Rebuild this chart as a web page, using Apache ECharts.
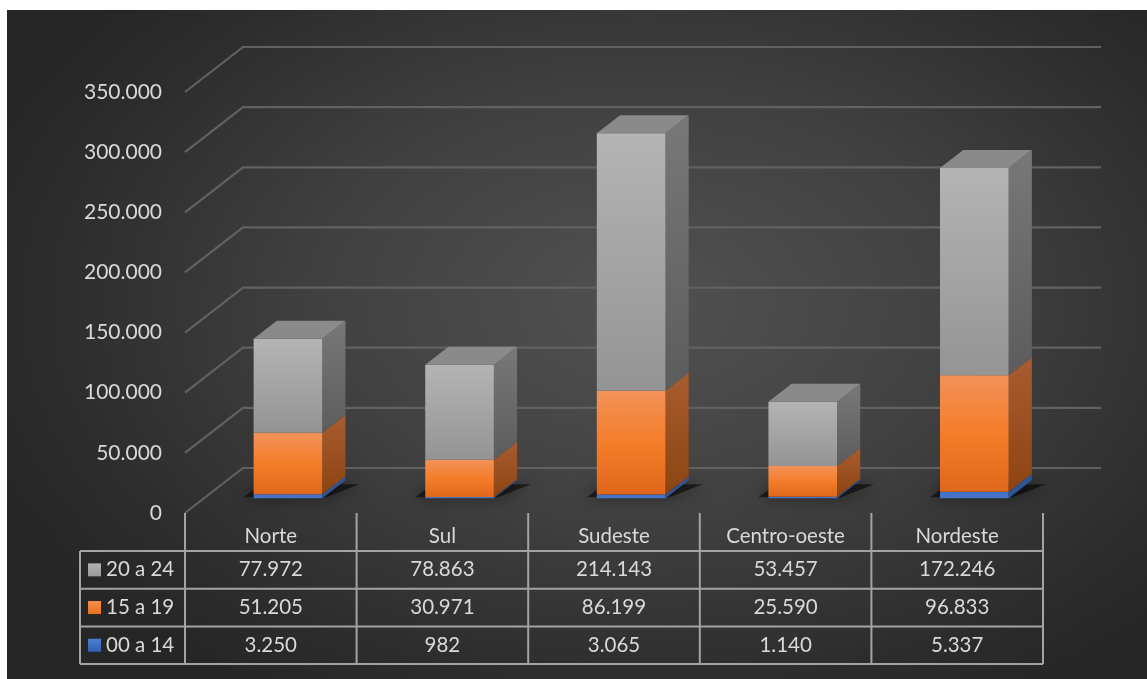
<!DOCTYPE html>
<html>
<head>
<meta charset="utf-8">
<script src="https://cdn.jsdelivr.net/npm/echarts@6/dist/echarts.min.js"></script>
<style>
  html, body { margin: 0; padding: 0; background: #ffffff; }
  #panel {
    position: absolute; left: 7px; top: 10px; width: 1140px; height: 669px;
    background: radial-gradient(ellipse 62% 68% at 56% 44%, #515151 0%, #414141 45%, #2c2c2c 85%, #262626 100%);
  }
  #chart { position: absolute; left: 0; top: 0; width: 1147px; height: 679px; }
</style>
</head>
<body>
<div id="panel"></div>
<div id="chart"></div>
<script>
// Regions and age groups
const categories = ['Norte', 'Sul', 'Sudeste', 'Centro-oeste', 'Nordeste'];
const seriesNames = ['00 a 14', '15 a 19', '20 a 24'];
const age00a14 = [3250, 982, 3065, 1140, 5337];
const age15a19 = [51205, 30971, 86199, 25590, 96833];
const age20a24 = [77972, 78863, 214143, 53457, 172246];
const yTicks = [0, 50000, 100000, 150000, 200000, 250000, 300000, 350000];

// 3D look: depth of the back wall and position of the columns inside it
const DX = 58, DY = -45;
const F0 = 0.33, F1 = 0.73;
const BAR_RATIO = 0.4;
const BAR_SHIFT = -2;
const TEXT = '#d9d9d9';
const FONT = 'Lato';
const GRID_LINE = '#616161';
const TABLE_LINE = '#a3a3a3';

const stacks = [age00a14, age15a19, age20a24];

const faces = [
  { // 00 a 14
    front: '#4472c4', side: '#2f5597', top: '#5b85cf', swatch: ['#4f7fd0', '#2f5fb3']
  },
  { // 15 a 19
    front: ['#f29259', '#f47d2a', '#e0671b'], side: ['#a85c30', '#8c4512'], top: '#f59d68', swatch: ['#f7904a', '#e8701e']
  },
  { // 20 a 24
    front: ['#b4b4b4', '#949494'], side: ['#787878', '#5c5c5c'], top: '#8a8a8a', swatch: ['#b0b0b0', '#9a9a9a']
  }
];

function vgrad(stops) {
  if (typeof stops === 'string') return stops;
  return {
    type: 'linear', x: 0, y: 0, x2: 0, y2: 1,
    colorStops: stops.map((c, i) => ({ offset: i / (stops.length - 1), color: c }))
  };
}

function fmt(v) {
  return String(v).replace(/\B(?=(\d{3})+(?!\d))/g, '.');
}

const barData = categories.map((c, i) => [i, age00a14[i], age15a19[i], age20a24[i]]);

function renderWall(params, api) {
  const cs = params.coordSys;
  const v = api.value(0);
  const y = api.coord([0, v])[1];
  const x0 = cs.x;
  const x1 = cs.x + cs.width;
  return {
    type: 'polyline',
    shape: { points: [[x0, y], [x0 + DX, y + DY], [x1 + DX, y + DY]] },
    style: { stroke: GRID_LINE, lineWidth: 2.2, fill: null },
    silent: true
  };
}

function renderBar(params, api) {
  const i = api.value(0);
  const base = api.coord([i, 0]);
  const band = api.size([1, 0])[0];
  const w = band * BAR_RATIO;
  const ox = DX * F0 + BAR_SHIFT, oy = DY * F0;
  const dx = DX * (F1 - F0), dy = DY * (F1 - F0);
  const xl = base[0] - w / 2 + ox;
  const xr = xl + w;
  const yb0 = base[1] + oy;
  const children = [];

  // soft shadow under the column
  children.push({
    type: 'polygon',
    shape: { points: [[xl - 10, yb0 - 1], [xr + 4, yb0 - 1], [xr + dx + 14, yb0 + dy + 4], [xl + dx - 16, yb0 + dy + 4]] },
    style: { fill: 'rgba(0,0,0,0.55)', shadowBlur: 16, shadowColor: 'rgba(0,0,0,0.85)' },
    silent: true
  });

  let acc = 0;
  for (let s = 0; s < 3; s++) {
    const v = api.value(s + 1);
    const yb = api.coord([i, acc])[1] + oy;
    acc += v;
    const yt = api.coord([i, acc])[1] + oy;
    const f = faces[s];
    children.push({
      type: 'polygon',
      shape: { points: [[xr, yb], [xr + dx, yb + dy], [xr + dx, yt + dy], [xr, yt]] },
      style: { fill: vgrad(f.side) },
      silent: true
    });
    children.push({
      type: 'rect',
      shape: { x: xl, y: yt, width: w, height: yb - yt },
      style: { fill: vgrad(f.front) },
      silent: true
    });
    if (s === 2) {
      children.push({
        type: 'polygon',
        shape: { points: [[xl, yt], [xr, yt], [xr + dx, yt + dy], [xl + dx, yt + dy]] },
        style: { fill: f.top },
        silent: true
      });
    }
  }
  return { type: 'group', children: children };
}

// data table under the plot: one column per region plus the legend column
const HEAD_H = 38, ROW_H = 37.7, LEGEND_W = 105;
const rowOrder = [2, 1, 0]; // 20 a 24, 15 a 19, 00 a 14

function renderTable(params, api) {
  const cs = params.coordSys;
  const i = api.value(0);
  const c = api.coord([i, 0]);
  const band = api.size([1, 0])[0];
  const yTop = c[1];
  const yHead = yTop + HEAD_H;
  const yEnd = yHead + ROW_H * 3;
  const children = [];
  const line = (x1, y1, x2, y2) => ({
    type: 'line', shape: { x1, y1, x2, y2 },
    style: { stroke: TABLE_LINE, lineWidth: 2 }, silent: true
  });

  rowOrder.forEach((s, r) => {
    children.push({
      type: 'text',
      style: {
        x: c[0], y: yHead + ROW_H * (r + 0.5),
        text: fmt(stacks[s][i]), fill: TEXT, font: '20.5px ' + FONT,
        align: 'center', verticalAlign: 'middle'
      },
      silent: true
    });
  });
  children.push(line(c[0] + band / 2, yTop, c[0] + band / 2, yEnd));

  if (i === 0) {
    const xL = cs.x - LEGEND_W;
    children.push(line(cs.x, yTop, cs.x, yEnd));
    children.push(line(xL, yHead, xL, yEnd));
    for (let r = 0; r < 4; r++) {
      const y = yHead + ROW_H * r;
      children.push(line(xL, y, cs.x + cs.width, y));
    }
    rowOrder.forEach((s, r) => {
      const yc = yHead + ROW_H * (r + 0.5);
      children.push({
        type: 'rect',
        shape: { x: xL + 8, y: yc - 6.5, width: 13, height: 13 },
        style: { fill: vgrad(faces[s].swatch) },
        silent: true
      });
      children.push({
        type: 'text',
        style: {
          x: xL + 26, y: yc, text: seriesNames[s], fill: TEXT,
          font: '20.5px ' + FONT, align: 'left', verticalAlign: 'middle'
        },
        silent: true
      });
    });
  }
  return { type: 'group', children: children };
}

const chart = echarts.init(document.getElementById('chart'), null, { renderer: 'canvas' });
chart.setOption({
  backgroundColor: 'transparent',
  animation: false,
  grid: { left: 185, top: 92, width: 858, height: 421 },
  xAxis: {
    type: 'category',
    data: categories,
    axisLine: { show: false },
    axisTick: { show: false },
    axisLabel: { color: TEXT, fontSize: 20.5, fontFamily: FONT, margin: 13 },
    splitLine: { show: false }
  },
  yAxis: {
    type: 'value',
    min: 0, max: 350000, interval: 50000,
    axisLine: { show: false },
    axisTick: { show: false },
    splitLine: { show: false },
    axisLabel: { color: TEXT, fontSize: 21, fontFamily: FONT, margin: 23, formatter: fmt }
  },
  series: [
    {
      name: 'wall', type: 'custom', renderItem: renderWall,
      data: yTicks.map(v => [v]), encode: { y: 0 }, silent: true, z: 1
    },
    {
      name: 'columns', type: 'custom', renderItem: renderBar,
      data: barData, encode: { x: 0, y: [1, 2, 3] }, silent: true, z: 2
    },
    {
      name: 'table', type: 'custom', renderItem: renderTable,
      data: categories.map((c, i) => [i]), encode: { x: 0 }, silent: true, z: 3
    }
  ]
});
</script>
</body>
</html>
